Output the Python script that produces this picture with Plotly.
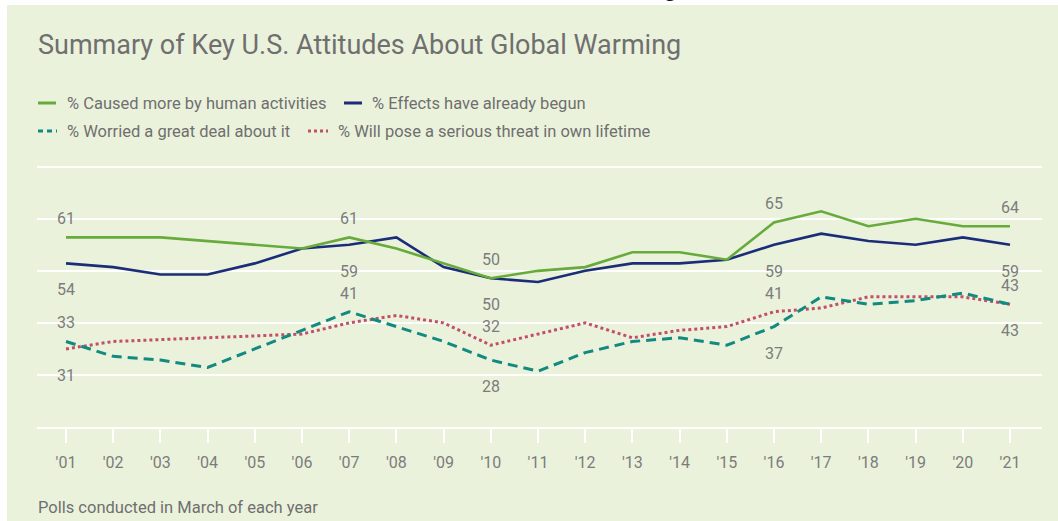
import plotly.graph_objects as go

# ---- data (Gallup March polls) ----
years = list(range(2001, 2022))
tick_labels = ["'%02d" % (y % 100) for y in years]

caused_by_humans = [61, None, 61, None, None, 58, 61, 58, None, 50, 52, 53, 57, 57, 55, 65, 68, 64, 66, 64, 64]
effects_begun = [54, 53, 51, 51, 54, 58, 59, 61, 53, 50, 49, 52, 54, 54, 55, 59, 62, 60, 59, 61, 59]
worried_great_deal = [33, 29, 28, 26, None, 36, 41, 37, 33, 28, 25, 30, 33, 34, 32, 37, 45, 43, 44, 46, 43]
serious_threat = [31, 33, None, None, None, 35, 38, 40, 38, 32, None, 38, 34, 36, 37, 41, 42, 45, 45, 45, 43]

series_names = {
    "human": "% Caused more by human activities",
    "begun": "% Effects have already begun",
    "worried": "% Worried a great deal about it",
    "threat": "% Will pose a serious threat in own lifetime",
}
series_values = {
    "human": caused_by_humans,
    "begun": effects_begun,
    "worried": worried_great_deal,
    "threat": serious_threat,
}

# ---- styling ----
W, H = 1058, 521
ML, MR, MT, MB = 37, 16, 163, 94
BG = "#EBF2DC"
TEXT = "#6f6f6f"
LABEL = "#7c7c7c"
FONT = "Roboto"
styles = {
    "human": dict(color="#66AB3B", width=2.6, dash="solid"),
    "begun": dict(color="#1B2D78", width=2.6, dash="solid"),
    "worried": dict(color="#128A80", width=3, dash="10px,6px"),
    "threat": dict(color="#C24F6A", width=3, dash="dot"),
}

PW = W - ML - MR
PH = H - MT - MB


def px_x(px):
    return (px - ML) / PW


def px_y(py):
    return 1 - (py - MT) / PH


fig = go.Figure()
for key in ["threat", "worried", "begun", "human"]:
    fig.add_trace(go.Scatter(
        x=years, y=series_values[key], mode="lines", name=series_names[key],
        line=styles[key], connectgaps=True, showlegend=False,
        hoverinfo="x+y",
    ))

annotations = []

# value labels at selected years: (series, year, above?)
label_spec = [
    ("human", 2001, True), ("begun", 2001, False), ("worried", 2001, True), ("threat", 2001, False),
    ("human", 2007, True), ("begun", 2007, False), ("worried", 2007, True),
    ("human", 2010, True), ("begun", 2010, False), ("threat", 2010, True), ("worried", 2010, False),
    ("human", 2016, True), ("begun", 2016, False), ("threat", 2016, True), ("worried", 2016, False),
    ("human", 2021, True), ("begun", 2021, False), ("threat", 2021, True), ("worried", 2021, False),
]
for key, yr, above in label_spec:
    v = series_values[key][years.index(yr)]
    annotations.append(dict(
        x=yr, y=v, xref="x", yref="y", text=str(v), showarrow=False,
        xanchor="center", yanchor="middle", yshift=18.5 if above else -26.5,
        font=dict(family=FONT, size=16, color=LABEL),
    ))

# title
annotations.append(dict(
    x=px_x(36), y=px_y(45), xref="paper", yref="paper",
    text="Summary of Key U.S. Attitudes About Global Warming", showarrow=False,
    xanchor="left", yanchor="middle", font=dict(family=FONT, size=27, color=TEXT),
))

# legend rows
legend_rows = [
    (103, [("human", 38, 56, 65), ("begun", 344, 362, 370)]),
    (131, [("worried", 38, 57, 65), ("threat", 308, 328, 336)]),
]
shapes = []
for row_y, items in legend_rows:
    for key, x0, x1, tx in items:
        st = styles[key]
        shapes.append(dict(
            type="line", xref="paper", yref="paper",
            x0=px_x(x0), x1=px_x(x1), y0=px_y(row_y), y1=px_y(row_y),
            line=dict(color=st["color"], width=3,
                      dash="5px,4px" if key == "worried" else st["dash"]),
        ))
        annotations.append(dict(
            x=px_x(tx), y=px_y(row_y), xref="paper", yref="paper",
            text=series_names[key], showarrow=False, xanchor="left", yanchor="middle",
            font=dict(family=FONT, size=16.5, color=TEXT),
        ))

# footnote
annotations.append(dict(
    x=px_x(36), y=px_y(507), xref="paper", yref="paper",
    text="Polls conducted in March of each year", showarrow=False,
    xanchor="left", yanchor="middle", font=dict(family=FONT, size=16.5, color=TEXT),
))

# cut-off glyph of a heading above the panel
annotations.append(dict(
    x=px_x(670), y=px_y(4), xref="paper", yref="paper",
    text="<b>g</b>", showarrow=False, xanchor="center", yanchor="bottom",
    font=dict(family=FONT, size=26, color="#111111"),
))

# white margin outside the panel (left and top strips)
shapes.append(dict(type="rect", xref="paper", yref="paper", layer="below",
                   x0=px_x(0), x1=px_x(7), y0=px_y(H), y1=px_y(0),
                   fillcolor="white", line=dict(width=0)))
shapes.append(dict(type="rect", xref="paper", yref="paper", layer="below",
                   x0=px_x(0), x1=px_x(W), y0=px_y(5), y1=px_y(0),
                   fillcolor="white", line=dict(width=0)))

x_left = 2001 - 29 / 47.2
x_right = x_left + PW / 47.2

fig.update_layout(
    width=W, height=H,
    margin=dict(l=ML, r=MR, t=MT, b=MB, pad=0),
    paper_bgcolor=BG, plot_bgcolor=BG,
    annotations=annotations, shapes=shapes,
    showlegend=False,
    xaxis=dict(
        range=[x_left, x_right], tickvals=years, ticktext=tick_labels,
        showgrid=False, zeroline=False,
        showline=True, linecolor="white", linewidth=2,
        ticks="outside", ticklen=14, tickwidth=2, tickcolor="white",
        ticklabelstandoff=6,
        tickfont=dict(family=FONT, size=16, color=LABEL),
        fixedrange=True,
    ),
    yaxis=dict(
        range=[10, 81], tickvals=[10, 24, 38, 52, 66, 80],
        showticklabels=False, showgrid=True, gridcolor="white", gridwidth=2,
        zeroline=False, fixedrange=True,
    ),
)

fig.write_html("out.html")
